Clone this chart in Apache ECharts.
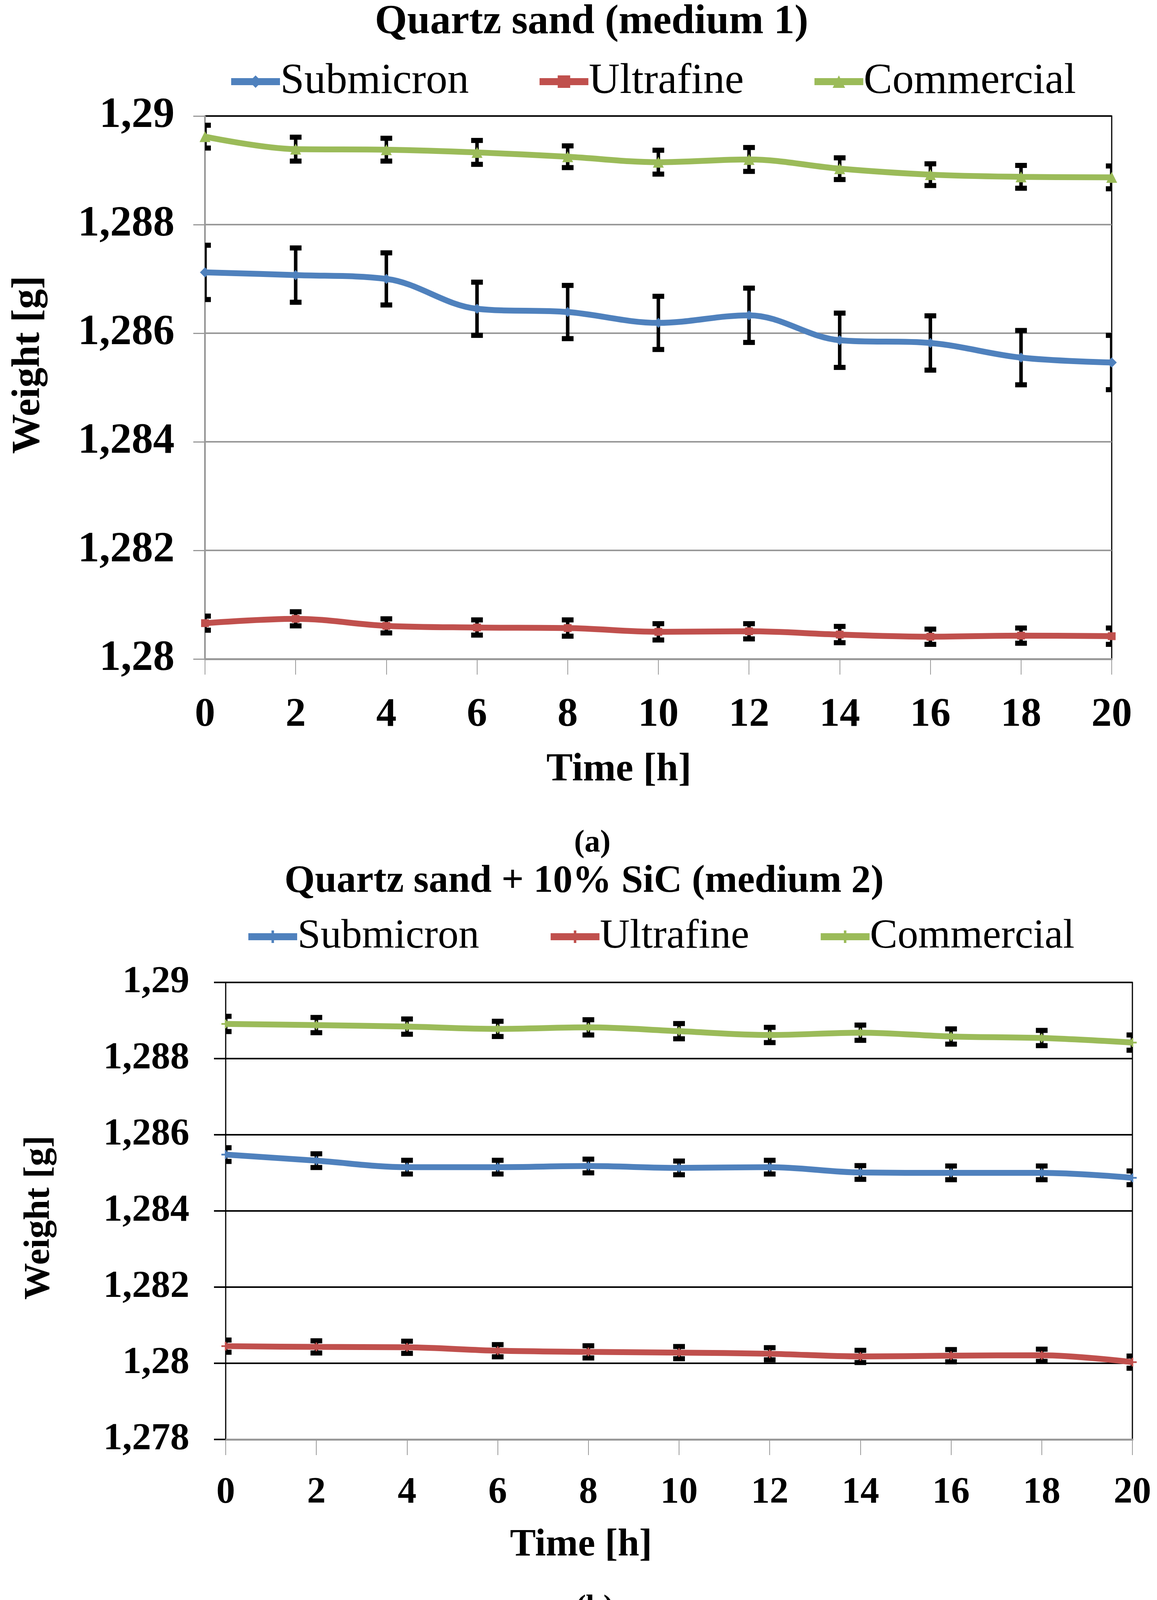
<!DOCTYPE html>
<html>
<head>
<meta charset="utf-8">
<script src="https://cdn.jsdelivr.net/npm/echarts@6/dist/echarts.min.js"></script>
<style>
html,body{margin:0;padding:0;background:#fff;}
#chart{width:2963px;height:4168px;}
</style>
</head>
<body>
<div id="chart"></div>
<script>
// ---- data ----
const hours = [0, 2, 4, 6, 8, 10, 12, 14, 16, 18, 20];
const seriesNames = ['Submicron', 'Ultrafine', 'Commercial'];

// (a) Quartz sand (medium 1)
const subA = [1.28712, 1.28707, 1.28700, 1.28645, 1.28639, 1.28619, 1.28633, 1.28587, 1.28582, 1.28555, 1.28546];
const subAErr = [0.0005, 0.0005, 0.00048, 0.00049, 0.00049, 0.00049, 0.0005, 0.0005, 0.0005, 0.0005, 0.0005];
const ultA = [1.28066, 1.28074, 1.28061, 1.28058, 1.28057, 1.28050, 1.28051, 1.28045, 1.28041, 1.28043, 1.28042];
const ultAErr = [0.00013, 0.00013, 0.00013, 0.00014, 0.00015, 0.00015, 0.00014, 0.00015, 0.00014, 0.00014, 0.00015];
const comA = [1.28962, 1.28939, 1.28938, 1.28933, 1.28925, 1.28915, 1.28920, 1.28903, 1.28892, 1.28888, 1.28887];
const comAErr = [0.00021, 0.00022, 0.00021, 0.00022, 0.0002, 0.00022, 0.00022, 0.0002, 0.0002, 0.00021, 0.00021];

// (b) Quartz sand + 10% SiC (medium 2)
const subB = [1.28548, 1.28532, 1.28515, 1.28515, 1.28518, 1.28513, 1.28515, 1.28501, 1.28500, 1.28500, 1.28487];
const subBErr = [0.00018, 0.00018, 0.00018, 0.00018, 0.00018, 0.00018, 0.00018, 0.00018, 0.00018, 0.00018, 0.00018];
const ultB = [1.28045, 1.28043, 1.28042, 1.28033, 1.28030, 1.28028, 1.28025, 1.28018, 1.28020, 1.28021, 1.28003];
const ultBErr = [0.00016, 0.00016, 0.00016, 0.00016, 0.00016, 0.00016, 0.00016, 0.00016, 0.00016, 0.00016, 0.00016];
const comB = [1.28891, 1.28888, 1.28884, 1.28878, 1.28882, 1.28872, 1.28862, 1.28868, 1.28858, 1.28854, 1.28842];
const comBErr = [0.0002, 0.0002, 0.0002, 0.0002, 0.0002, 0.0002, 0.0002, 0.0002, 0.0002, 0.0002, 0.0002];

const yTicksA = {min: 1.28, max: 1.29, interval: 0.002};
const yTicksB = {min: 1.278, max: 1.29, interval: 0.002};
const xTicks = {min: 0, max: 20, interval: 2};

// ---- styling ----
const FONT = '"Liberation Serif", "DejaVu Serif", serif';
const colors = ['#4F81BD', '#C0504D', '#9BBB59'];
const plusPath = 'path://M4,0h2v4h4v2h-4v4h-2v-4h-4v-2h4z';

function pairs(vals) { return hours.map((h, i) => [h, vals[i]]); }
function errData(vals, errs) { return hours.map((h, i) => [h, vals[i] - errs[i], vals[i] + errs[i]]); }
function fmtY(v) { return String(parseFloat(v.toFixed(3))).replace('.', ','); }

function errRender(params, api) {
  const x = api.value(0), lo = api.value(1), hi = api.value(2);
  const p1 = api.coord([x, hi]);
  const p2 = api.coord([x, lo]);
  const hw = 15, ch = 13;
  const cs = params.coordSys;
  return {
    type: 'group',
    clipPath: {type: 'rect', shape: {x: cs.x, y: cs.y - 40, width: cs.width, height: cs.height + 80}},
    children: [
      {type: 'line', shape: {x1: p1[0], y1: p1[1], x2: p2[0], y2: p2[1]}, style: {stroke: '#000', lineWidth: 9}},
      {type: 'rect', shape: {x: p1[0] - hw, y: p1[1] - ch / 2, width: hw * 2, height: ch}, style: {fill: '#000'}},
      {type: 'rect', shape: {x: p2[0] - hw, y: p2[1] - ch / 2, width: hw * 2, height: ch}, style: {fill: '#000'}}
    ]
  };
}

function lineSeries(name, vals, color, idx, symbol, size) {
  return {
    name: name, type: 'line', xAxisIndex: idx, yAxisIndex: idx,
    data: pairs(vals), smooth: 0.35, symbol: symbol, symbolSize: size,
    itemStyle: {color: color}, lineStyle: {color: color, width: 15},
    z: 3
  };
}
function errSeries(name, vals, errs, idx) {
  return {
    name: name, type: 'custom', xAxisIndex: idx, yAxisIndex: idx,
    data: errData(vals, errs), renderItem: errRender, clip: false,
    encode: {x: 0, y: [1, 2]}, z: 2, silent: true
  };
}

const axisLabelX = (size, margin) => ({
  fontFamily: FONT, fontWeight: 'bold', fontSize: size, color: '#000', margin: margin
});

const chart = echarts.init(document.getElementById('chart'), null, {renderer: 'canvas'});
chart.setOption({
  backgroundColor: '#fff',
  animation: false,
  title: [
    {text: 'Quartz sand (medium 1)', left: 1510, top: 0, textAlign: 'center',
     textStyle: {fontFamily: FONT, fontWeight: 'bold', fontSize: 106, color: '#000'}},
    {text: '(a)', left: 1512, top: 2114, textAlign: 'center',
     textStyle: {fontFamily: FONT, fontWeight: 'bold', fontSize: 80, color: '#000'}},
    {text: 'Quartz sand + 10% SiC (medium 2)', left: 1491, top: 2202, textAlign: 'center',
     textStyle: {fontFamily: FONT, fontWeight: 'bold', fontSize: 100, color: '#000'}},
    {text: '(b)', left: 1518, top: 4072, textAlign: 'center',
     textStyle: {fontFamily: FONT, fontWeight: 'bold', fontSize: 80, color: '#000'}}
  ],
  legend: [
    {data: seriesNames, left: 578, top: 149, itemWidth: 125, itemHeight: 40, itemGap: 172,
     lineStyle: {width: 18}, itemStyle: {borderWidth: 0},
     textStyle: {fontFamily: FONT, fontSize: 110, color: '#000', padding: [0, 0, 0, -4]}},
    {data: seriesNames.map(n => n + ' (b)'), left: 622, top: 2340, itemWidth: 125, itemHeight: 40, itemGap: 174,
     lineStyle: {width: 18}, itemStyle: {borderWidth: 0},
     formatter: n => n.replace(' (b)', ''),
     textStyle: {fontFamily: FONT, fontSize: 106, color: '#000', padding: [0, 0, 0, -4]}}
  ],
  grid: [
    {left: 525, top: 297, width: 2322, height: 1390, show: true, borderColor: '#000', borderWidth: 3, backgroundColor: 'transparent'},
    {left: 578, top: 2515, width: 2322, height: 1170, show: true, borderColor: '#000', borderWidth: 3, backgroundColor: 'transparent'}
  ],
  xAxis: [
    {type: 'value', gridIndex: 0, min: xTicks.min, max: xTicks.max, interval: xTicks.interval,
     axisLine: {show: true, onZero: false, lineStyle: {color: '#999', width: 5}},
     axisTick: {show: true, length: 40, lineStyle: {color: '#999', width: 2}},
     axisLabel: axisLabelX(104, 92), splitLine: {show: false},
     name: 'Time [h]', nameLocation: 'middle', nameGap: 234,
     nameTextStyle: {fontFamily: FONT, fontWeight: 'bold', fontSize: 101, color: '#000', padding: [0, 202, 0, 0]}},
    {type: 'value', gridIndex: 1, min: xTicks.min, max: xTicks.max, interval: xTicks.interval,
     axisLine: {show: true, onZero: false, lineStyle: {color: '#999', width: 5}},
     axisTick: {show: true, length: 40, lineStyle: {color: '#999', width: 2}},
     axisLabel: axisLabelX(96, 89), splitLine: {show: false},
     name: 'Time [h]', nameLocation: 'middle', nameGap: 222,
     nameTextStyle: {fontFamily: FONT, fontWeight: 'bold', fontSize: 99, color: '#000', padding: [0, 502, 0, 0]}}
  ],
  yAxis: [
    {type: 'value', gridIndex: 0, min: yTicksA.min, max: yTicksA.max, interval: yTicksA.interval,
     axisLine: {show: true, lineStyle: {color: '#999', width: 3}},
     axisTick: {show: true, length: 30, lineStyle: {color: '#999', width: 3}},
     axisLabel: {fontFamily: FONT, fontWeight: 'bold', fontSize: 110, color: '#000', margin: 78, formatter: fmtY},
     splitLine: {show: true, lineStyle: {color: ['#999', '#999', '#999', '#999', '#999', '#000'], width: 4}},
     name: 'Weight [g]', nameLocation: 'middle', nameGap: 400, nameRotate: 90,
     nameTextStyle: {fontFamily: FONT, fontWeight: 'bold', fontSize: 102, color: '#000', padding: [0, 0, 0, 116]}},
    {type: 'value', gridIndex: 1, min: yTicksB.min, max: yTicksB.max, interval: yTicksB.interval,
     axisLine: {show: true, lineStyle: {color: '#000', width: 2}},
     axisTick: {show: true, length: 30, lineStyle: {color: '#000', width: 4}},
     axisLabel: {fontFamily: FONT, fontWeight: 'bold', fontSize: 98, color: '#000', margin: 93, formatter: fmtY},
     splitLine: {show: true, lineStyle: {color: ['#999', '#000', '#000', '#000', '#000', '#000', '#000'], width: 4}},
     name: 'Weight [g]', nameLocation: 'middle', nameGap: 430, nameRotate: 90,
     nameTextStyle: {fontFamily: FONT, fontWeight: 'bold', fontSize: 94, color: '#000', padding: [0, 34, 0, 0]}}
  ],
  series: [
    errSeries('errA0', subA, subAErr, 0),
    errSeries('errA1', ultA, ultAErr, 0),
    errSeries('errA2', comA, comAErr, 0),
    lineSeries('Submicron', subA, colors[0], 0, 'diamond', 26),
    lineSeries('Ultrafine', ultA, colors[1], 0, 'rect', 20),
    lineSeries('Commercial', comA, colors[2], 0, 'triangle', 28),
    errSeries('errB0', subB, subBErr, 1),
    errSeries('errB1', ultB, ultBErr, 1),
    errSeries('errB2', comB, comBErr, 1),
    lineSeries('Submicron (b)', subB, colors[0], 1, plusPath, 22),
    lineSeries('Ultrafine (b)', ultB, colors[1], 1, plusPath, 22),
    lineSeries('Commercial (b)', comB, colors[2], 1, plusPath, 22)
  ]
});
</script>
</body>
</html>
